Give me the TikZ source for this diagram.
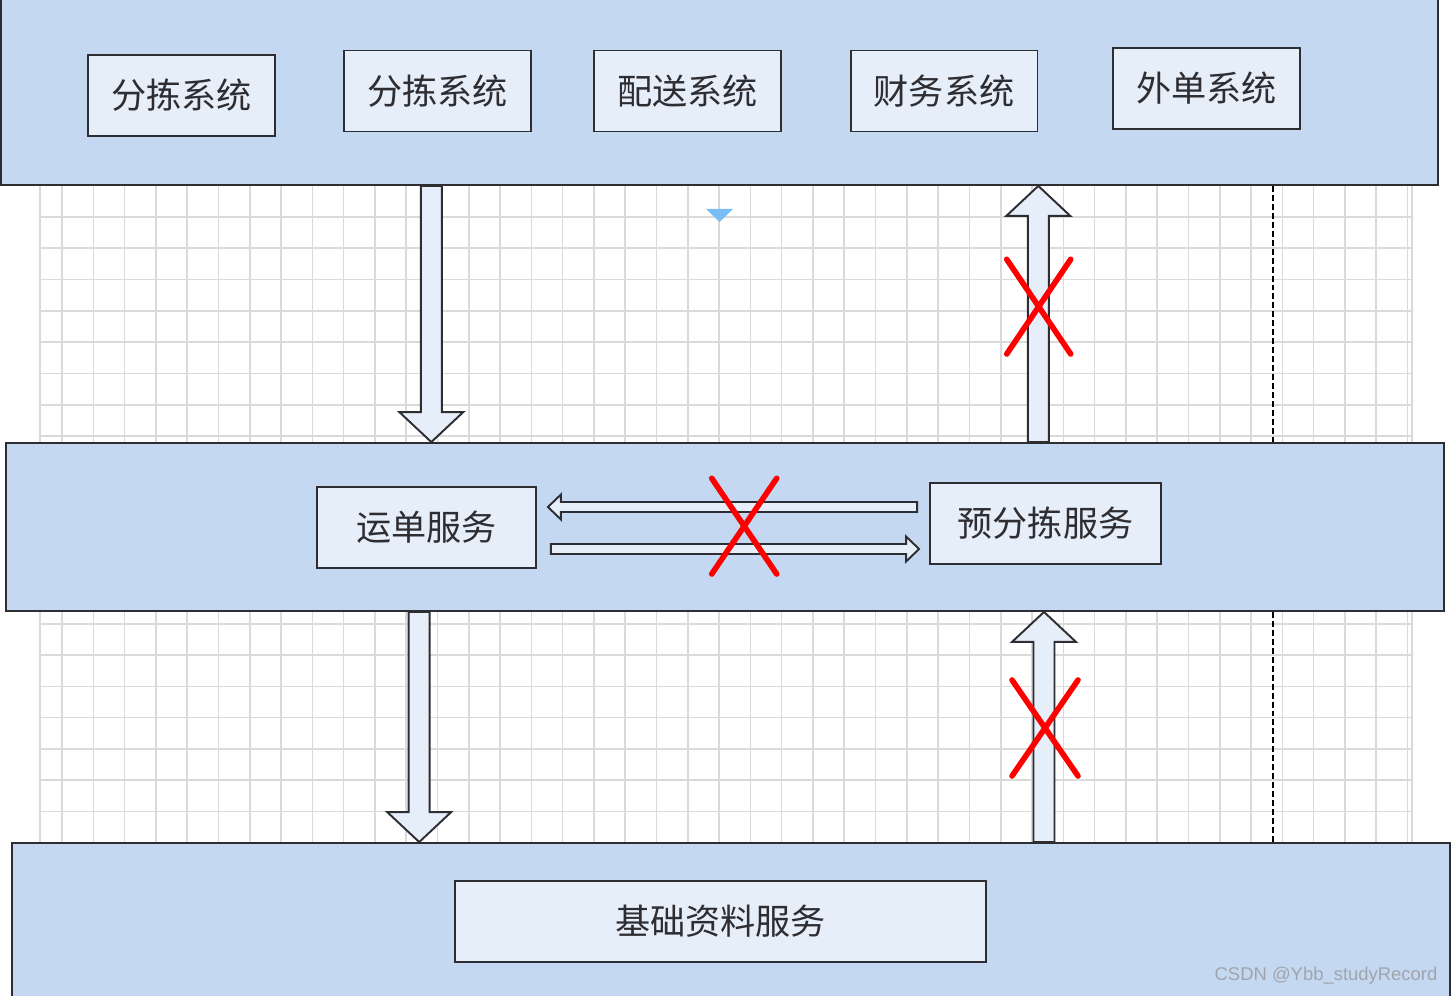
\documentclass[tikz,border=0pt]{standalone}
\usepackage{fontspec}
\usepackage{tikz}
\usetikzlibrary{positioning, calc}
\newfontfamily\cjk{Noto Sans CJK SC}
\newfontfamily\wmfont{Liberation Sans}
\definecolor{bandblue}{RGB}{196, 216, 241}
\definecolor{boxfill}{RGB}{230, 238, 249}
\definecolor{ink}{RGB}{45, 45, 50}
\definecolor{gridgray}{RGB}{218, 218, 218}
\definecolor{tipblue}{RGB}{120, 190, 245}
\definecolor{wmgray}{RGB}{160, 165, 172}

% block arrow: start, end, shaft half width, head half width, head length
\newcommand{\blockarrow}[5]{%
  \coordinate (ba-a) at (#1);
  \coordinate (ba-b) at (#2);
  \coordinate (ba-h) at ($(ba-b)!#5!(ba-a)$);
  \draw[barrow] ($(ba-a)!#3!90:(ba-b)$) -- ($(ba-h)!#3!90:(ba-b)$)
    -- ($(ba-h)!#4!90:(ba-b)$) -- (ba-b) -- ($(ba-h)!#4!-90:(ba-b)$)
    -- ($(ba-h)!#3!-90:(ba-b)$) -- ($(ba-a)!#3!-90:(ba-b)$) -- cycle;}

\begin{document}
\begin{tikzpicture}[x=0.02cm, y=-0.02cm,
      band/.style={draw=ink, line width=1.1pt, fill=bandblue, inner sep=0pt},
      box/.style={draw=ink, line width=1.1pt, fill=boxfill, inner sep=0pt,
                  minimum width=3.74cm, minimum height=1.62cm, text=ink,
                  font=\cjk\fontsize{20}{24}\selectfont},
      barrow/.style={draw=ink, line width=1.1pt, fill=boxfill, line join=miter},
      xmark/.style={draw=red, line width=3.2pt, line cap=round},
      gridline/.style={draw=gridgray, line width=0.9pt},
      dashline/.style={draw=black, line width=0.8pt, dash pattern=on 3.4pt off 1.7pt}]
    \useasboundingbox (0,0) rectangle (1452,996);
    % background grid
    \foreach \i in {0,...,43}
      \draw[gridline] ({62+31.29*\i},186) -- ({62+31.29*\i},843);
    \foreach \j in {0,...,19}
      \draw[gridline] (40,{217+31.29*\j}) -- (1412,{217+31.29*\j});
    \draw[gridline] (40,186) -- (40,843);
    \draw[gridline] (1412,186) -- (1412,843);

    % layers
    \node[band, minimum width=28.74cm, minimum height=3.8cm] (topband) at (719.5,90) {};
    \node[band, minimum width=28.76cm, minimum height=3.36cm] (midband) at (725,527) {};
    \node[band, minimum width=28.76cm, minimum height=3.16cm] (botband) at (731,922) {};

    \draw[dashline] (1273,0 |- topband.south) -- (1273,0 |- midband.north);
    \draw[dashline] (1273,0 |- midband.south) -- (1273,0 |- botband.north);

    % systems
    \node[box] (fj1) at (181.5,95.5) {分拣系统};
    \node[box] (fj2) at (437.5,91) {分拣系统};
    \node[box] (ps) at (687.5,91) {配送系统};
    \node[box] (cw) at (944,91) {财务系统};
    \node[box] (wd) at (1206.5,88.5) {外单系统};
    % services
    \node[box, minimum width=4.38cm] (ydfw) at (426.5,527.5) {运单服务};
    \node[box, minimum width=4.62cm] (yfj) at (1045.5,523.5) {预分拣服务};
    \node[box, minimum width=10.62cm] (jczl) at (720.5,921.5) {基础资料服务};

    % calls between layers
    \blockarrow{431.3,0 |- topband.south}{431.3,0 |- midband.north}{0.21cm}{0.64cm}{0.6cm}
    \blockarrow{1038.3,0 |- midband.north}{1038.3,0 |- topband.south}{0.21cm}{0.64cm}{0.6cm}
    \blockarrow{419.2,0 |- midband.south}{419.2,0 |- botband.north}{0.21cm}{0.64cm}{0.6cm}
    \blockarrow{1044,0 |- botband.north}{1044,0 |- midband.south}{0.21cm}{0.64cm}{0.6cm}
    \blockarrow{$(yfj.west)+(-12,-16.5)$}{$(ydfw.east)+(11,-20.5)$}{0.1cm}{0.25cm}{0.26cm}
    \blockarrow{$(ydfw.east)+(14,21.5)$}{$(yfj.west)+(-10,25.5)$}{0.1cm}{0.25cm}{0.26cm}

    % forbidden calls
    \draw[xmark] (1006.7,259.3) -- (1070.7,354);
    \draw[xmark] (1070.7,259.3) -- (1006.7,354);
    \draw[xmark] (711.7,478.3) -- (776.7,574);
    \draw[xmark] (776.7,478.3) -- (711.7,574);
    \draw[xmark] (1012,680) -- (1078,776);
    \draw[xmark] (1078,680) -- (1012,776);

    \fill[tipblue] (706,209) -- (733,209) -- (719.5,222) -- cycle;
    \node[text=wmgray, font=\wmfont\fontsize{10.5}{12}\selectfont] (wm) at (1326,976) {CSDN @Ybb\_studyRecord};
  \end{tikzpicture}
\end{document}
